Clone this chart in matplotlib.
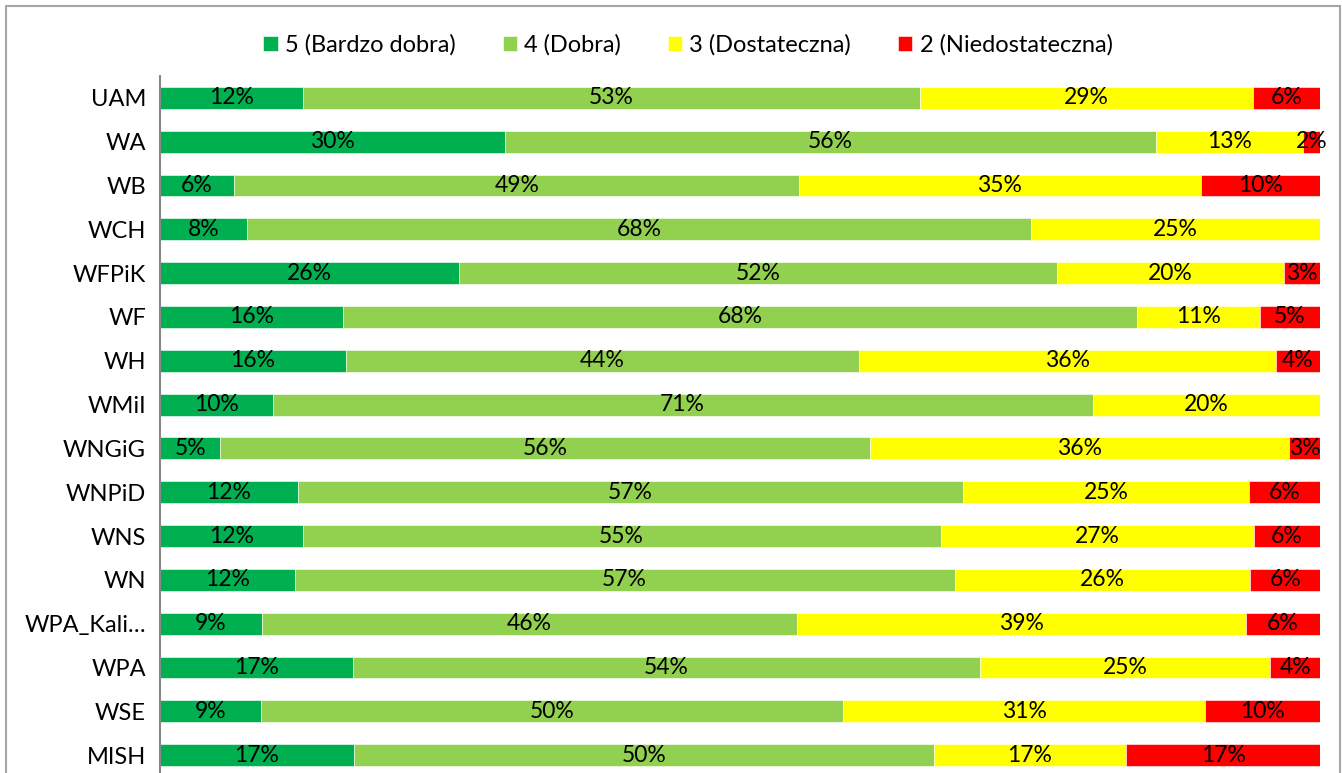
import matplotlib.pyplot as plt
from matplotlib.patches import Rectangle

plt.rcParams['font.family'] = ['Lato', 'DejaVu Sans']

categories = ["UAM", "WA", "WB", "WCH", "WFPiK", "WF", "WH", "WMiI", "WNGiG",
              "WNPiD", "WNS", "WN", "WPA_Kali…", "WPA", "WSE", "MISH"]

# shares in percent
bardzo_dobra = [12.3, 29.7, 6.4, 7.5, 25.8, 15.8, 16.0, 9.7, 5.2,
                11.9, 12.3, 11.6, 8.8, 16.6, 8.7, 16.7]
dobra = [53.2, 56.2, 48.7, 67.6, 51.5, 68.4, 44.3, 70.7, 56.0,
         57.3, 55.0, 56.9, 46.1, 54.1, 50.2, 50.0]
dostateczna = [28.7, 12.6, 34.6, 24.9, 19.6, 10.6, 35.9, 19.6, 36.1,
               24.7, 27.0, 25.5, 38.7, 25.0, 31.2, 16.6]
niedostateczna = [5.8, 1.5, 10.3, 0.0, 3.1, 5.2, 3.8, 0.0, 2.7,
                  6.1, 5.7, 6.0, 6.4, 4.3, 9.9, 16.7]

series = [
    ("5 (Bardzo dobra)", bardzo_dobra, "#00B050"),
    ("4 (Dobra)", dobra, "#92D050"),
    ("3 (Dostateczna)", dostateczna, "#FFFF00"),
    ("2 (Niedostateczna)", niedostateczna, "#FF0000"),
]

fig = plt.figure(figsize=(13.42, 7.73), dpi=100)
ax = fig.add_axes([160 / 1342, -4 / 773, 1160 / 1342, 701 / 773])

y = list(range(len(categories)))
left = [0.0] * len(categories)
for name, vals, color in series:
    ax.barh(y, vals, left=left, height=0.5, color=color,
            edgecolor="white", linewidth=0.4, label=name)
    for i, v in enumerate(vals):
        if v > 0:
            ax.text(left[i] + v / 2, i, f"{round(v)}%", ha="center",
                    va="center", fontsize=16.5, color="black")
    left = [l + v for l, v in zip(left, vals)]

ax.set_xlim(0, 100)
ax.set_ylim(len(categories) - 0.5, -0.5)
ax.set_yticks(y)
ax.set_yticklabels(categories, fontsize=17)
ax.tick_params(axis="y", length=0, pad=10)
ax.set_xticks([])
for s in ["top", "right", "bottom"]:
    ax.spines[s].set_visible(False)
ax.spines["left"].set_color("#888888")
ax.spines["left"].set_linewidth(1.5)

fig.legend(loc="center", bbox_to_anchor=(688 / 1342, 1 - 45 / 773), ncol=4,
           frameon=False, fontsize=17, handlelength=0.6, handleheight=0.6,
           handletextpad=0.3, columnspacing=2.0)

fig.patches.append(Rectangle((6 / 1342, -0.05), 1334 / 1342, 1.05 - 6 / 773,
                             transform=fig.transFigure, fill=False,
                             edgecolor="#A6A6A6", linewidth=1.5))

fig.savefig("out.png", dpi=100)
